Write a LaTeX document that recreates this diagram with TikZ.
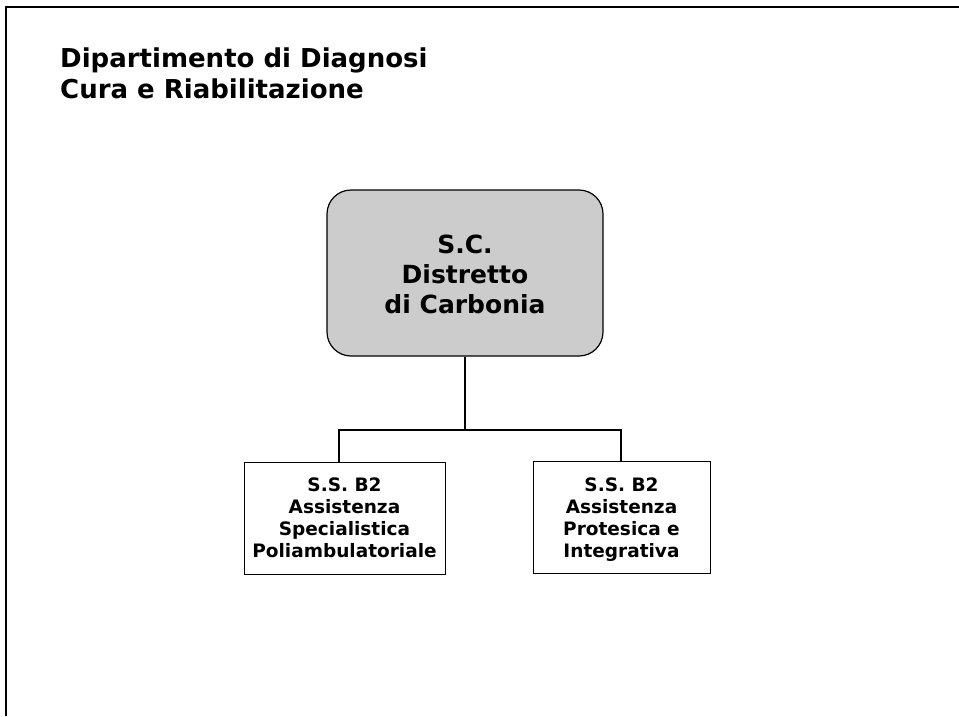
\documentclass[tikz,border=0pt]{standalone}
\usepackage{fontspec}
\setmainfont{DejaVu Sans}
\begin{document}
\begin{tikzpicture}[x=1pt,y=-1pt,
  frame/.style={line width=1.6pt, black},
  conn/.style={line width=1.5pt, black},
  topbox/.style={draw, line width=1.2pt, rounded corners=24pt, fill=black!20,
    minimum width=276pt, minimum height=166pt},
  toptext/.style={anchor=base, align=center, inner sep=0pt,
    font=\fontsize{25}{30}\selectfont\bfseries},
  subbox/.style={draw, line width=0.8pt, minimum height=112pt},
  subtext/.style={anchor=base, align=center, inner sep=0pt,
    font=\fontsize{18.5}{21.7}\selectfont\bfseries},
  titletext/.style={anchor=base west, align=left, inner sep=0pt,
    font=\fontsize{26}{31}\selectfont\bfseries}
]
\useasboundingbox (0,0) rectangle (959,716);
\coordinate (fa) at (6,716);
\coordinate (fb) at (6,7);
\coordinate (fc) at (959,7);
\draw[frame] (fa) -- (fb) -- (fc);
\node[titletext] (title) at (60,98) {Dipartimento di Diagnosi\\Cura e Riabilitazione};
\node[topbox] (sc) at (465,273) {};
\node[toptext] (sctext) at (465,313) {S.C.\\Distretto\\di Carbonia};
\node[subbox, minimum width=201pt] (left) at (344.5,518) {};
\node[subtext] (lefttext) at (344.5,557) {S.S. B2\\Assistenza\\Specialistica\\Poliambulatoriale};
\node[subbox, minimum width=177pt] (right) at (621.5,517) {};
\node[subtext] (righttext) at (621.5,557) {S.S. B2\\Assistenza\\Protesica e\\Integrativa};
\coordinate (junc) at (465,430);
\draw[conn] (sc.south) -- (junc);
\draw[conn] (left.north -| 339,0) |- (junc) -| (right.north -| 621,0);
\end{tikzpicture}
\end{document}
